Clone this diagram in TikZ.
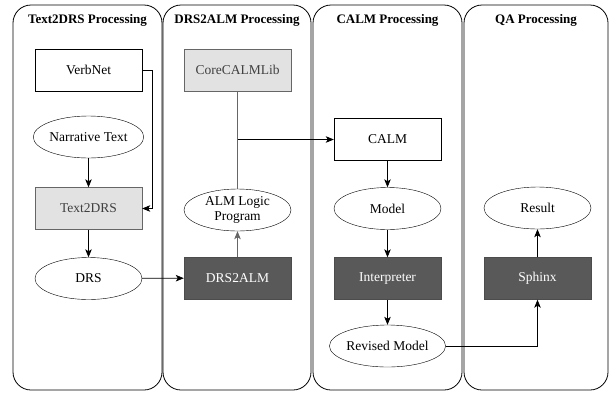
\documentclass[tikz,border=0pt]{standalone}
\usepackage{fontspec}
\setmainfont{Liberation Serif}
\usepackage{tikz}
\usetikzlibrary{positioning, arrows.meta, calc, shapes.geometric}

\definecolor{boxlight}{HTML}{E2E2E2}
\definecolor{boxdark}{HTML}{595959}

\tikzset{
    lane/.style={draw=black, line width=0.8pt, rounded corners=18pt},
    lanetitle/.style={font=\fontsize{13}{14}\selectfont\bfseries, inner sep=1pt},
    plainbox/.style={draw=black, fill=white, minimum width=107pt, minimum height=42pt,
        inner sep=0pt, font=\fontsize{13.5}{15.5}\selectfont},
    lightbox/.style={plainbox, draw=black!60, fill=boxlight, text=black!75},
    darkbox/.style={plainbox, draw=black!70, fill=boxdark, text=white},
    oval/.style={ellipse, draw=black, fill=white, minimum width=107pt, minimum height=42pt,
        inner sep=0pt, align=center, font=\fontsize{13.5}{15.5}\selectfont},
    flow/.style={draw=black, line width=0.7pt, -{Stealth[length=8pt, width=6.5pt, inset=2pt]}}
}

\begin{document}
\begin{tikzpicture}[x=1pt, y=-1pt]
    \useasboundingbox (0,0) rectangle (610,392);

    % swim lanes
    \foreach \name/\xa/\xb/\txt in {
        t2d/13/162/Text2DRS Processing,
        d2a/163/311/DRS2ALM Processing,
        calmlane/313/462/CALM Processing,
        qa/464/608/QA Processing}{

        \draw[lane] (\xa,5) rectangle (\xb,390);
        \node[lanetitle] (\name) at ({(\xa+\xb)/2},20) {\txt};
    }

    % boxes and ovals
    \foreach \name/\x/\y/\sty/\txt in {
        verbnet/88.5/70/plainbox/VerbNet,
        narrative/88.5/137/oval/Narrative Text,
        text2drs/88.5/208.5/lightbox/Text2DRS,
        drs/88.5/278.5/oval/DRS,
        corelib/237.5/70/lightbox/CoreCALMLib,
        almprog/237.5/210/oval/{ALM Logic\\Program},
        drs2alm/237.5/278/darkbox/DRS2ALM,
        calm/387.5/139.5/plainbox/CALM,
        model/387.5/208.5/oval/Model,
        interp/387.5/278.5/darkbox/Interpreter,
        revised/387.5/346/oval/Revised Model,
        sphinx/537.5/278.5/darkbox/Sphinx,
        result/537.5/208/oval/Result}{

        \node[\sty] (\name) at (\x,\y) {\txt};
    }

    % Text2DRS lane
    \draw[flow] (narrative) -- (text2drs);
    \draw[flow] (text2drs) -- (drs);
    \draw[flow] (verbnet.east) -- ++(10,0) |- (text2drs.east);
    \draw[flow] (drs) -- (drs2alm);

    % DRS2ALM lane
    \draw[line width=0.7pt, black!60] (corelib) -- (almprog);
    \draw[flow] (corelib.south |- calm.west) -- (calm.west);
    \draw[flow, draw=black!60] (drs2alm) -- (almprog);

    % CALM lane
    \draw[flow] (calm) -- (model);
    \draw[flow] (model) -- (interp);
    \draw[flow] (interp) -- (revised);

    % QA lane
    \draw[flow] (revised.east) -| (sphinx.south);
    \draw[flow] (sphinx) -- (result);
\end{tikzpicture}
\end{document}
